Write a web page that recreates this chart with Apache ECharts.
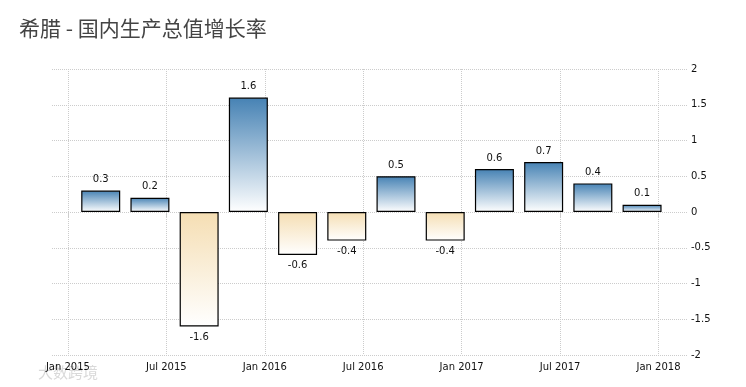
<!DOCTYPE html>
<html><head><meta charset="utf-8">
<style>html,body{margin:0;padding:0;background:#fff}#c{width:746px;height:387px}</style>
<script src="https://cdn.jsdelivr.net/npm/echarts@6/dist/echarts.min.js"></script>
</head><body><div id="c"></div>
<script>
const titleText = '希腊 - 国内生产总值增长率';
const watermark = '大数跨境';
// months counted from Jan 2015
const quarterMonths = [2,5,8,11,14,17,20,23,26,29,32,35];
const growth = [0.3,0.2,-1.6,1.6,-0.6,-0.4,0.5,-0.4,0.6,0.7,0.4,0.1];
const xTickMonths = [0,6,12,18,24,30,36];
const xTickLabels = ['Jan 2015','Jul 2015','Jan 2016','Jul 2016','Jan 2017','Jul 2017','Jan 2018'];
const xMin = -0.97, xMax = 37.8;
const labelFont = 'Tahoma, "DejaVu Sans", sans-serif';
const grad = (a,b) => ({type:'linear',x:0,y:0,x2:0,y2:1,colorStops:[{offset:0,color:a},{offset:1,color:b}]});
const chart = echarts.init(document.getElementById('c'));
chart.setOption({
  animation:false,
  backgroundColor:'#fff',
  title:{text:titleText,left:14,top:13,textStyle:{fontFamily:'"Noto Sans CJK SC"',fontSize:21,fontWeight:'normal',color:'#444'}},
  grid:{left:52,right:58,top:69,bottom:32},
  xAxis:{type:'value',min:xMin,max:xMax,
    axisLine:{show:false},
    axisTick:{show:true,length:5,customValues:xTickMonths,lineStyle:{color:'#ccc',type:'dotted'}},
    splitLine:{show:true,customValues:xTickMonths,lineStyle:{color:'#ccc',type:'dotted'}},
    axisLabel:{customValues:xTickMonths,margin:7,hideOverlap:false,fontFamily:labelFont,fontSize:10,color:'#111',
      showMinLabel:true,showMaxLabel:true,
      formatter:v=>xTickLabels[xTickMonths.indexOf(v)]}
  },
  yAxis:{type:'value',position:'right',min:-2,max:2,interval:0.5,
    axisLine:{show:false},axisTick:{show:false},
    splitLine:{show:true,lineStyle:{color:'#ccc',type:'dotted'}},
    axisLabel:{margin:3,padding:[3,0,0,0],fontFamily:labelFont,fontSize:10,color:'#111'}
  },
  series:[{type:'bar',barWidth:39,
    data:quarterMonths.map((m,i)=>({value:[m,growth[i]],
      itemStyle:{color:growth[i]>=0?grad('#4682b4','#ffffff'):grad('#f5deb3','#ffffff'),borderColor:'#000',borderWidth:1.2},
      label:{position:growth[i]>=0?'top':'bottom'}})),
    label:{show:true,distance:6,fontFamily:labelFont,fontSize:10,color:'#111',formatter:p=>String(p.value[1])}
  }],
  graphic:[{type:'text',left:38,top:365,style:{text:watermark,fontFamily:'"Noto Sans CJK SC"',fontSize:15,fill:'#d9d9d9'}}]
});
</script></body></html>
